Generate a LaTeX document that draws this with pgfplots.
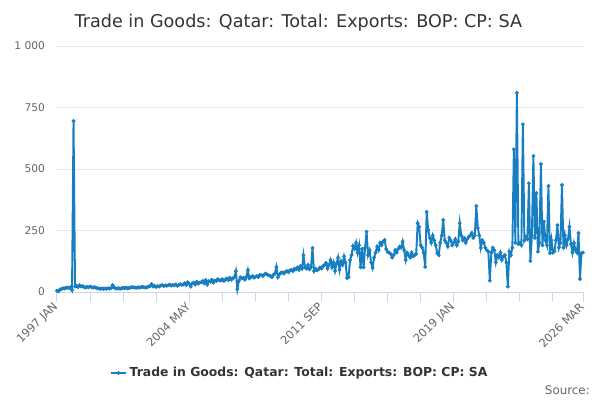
\documentclass[border=0pt]{standalone}
\usepackage{pgfplots}
\pgfplotsset{compat=1.18}
\usepackage{pgfplotstable}
\usepackage{fontspec}
\setmainfont{DejaVu Sans}
\definecolor{ser}{RGB}{24,126,194}
\definecolor{gridc}{RGB}{230,230,230}
\definecolor{axl}{RGB}{204,214,235}
\definecolor{lab}{RGB}{102,102,102}
\definecolor{ttl}{RGB}{51,51,51}

\pgfplotstableread[row sep=\\]{
v\\
5\\3\\10\\12\\15\\14\\17\\18\\16\\20\\8\\695\\
22\\25\\20\\28\\22\\24\\20\\18\\21\\19\\22\\20\\
18\\20\\17\\15\\14\\13\\15\\12\\14\\13\\15\\14\\
16\\28\\18\\15\\14\\16\\13\\15\\17\\16\\18\\15\\
17\\18\\20\\19\\18\\17\\19\\18\\20\\21\\19\\18\\
20\\22\\24\\32\\22\\25\\20\\24\\22\\26\\28\\24\\
27\\25\\28\\30\\26\\29\\27\\31\\25\\28\\32\\29\\
30\\36\\28\\40\\33\\22\\35\\38\\30\\42\\34\\38\\
40\\45\\35\\48\\30\\44\\42\\50\\38\\46\\45\\52\\
48\\46\\52\\45\\50\\55\\48\\58\\50\\55\\60\\85\\
12\\45\\60\\55\\58\\50\\62\\89\\55\\60\\65\\58\\
62\\65\\60\\70\\68\\65\\72\\75\\70\\68\\65\\60\\
70\\75\\102\\60\\72\\78\\80\\75\\82\\85\\80\\88\\
90\\85\\95\\92\\100\\90\\105\\95\\150\\100\\95\\110\\
92\\100\\179\\85\\95\\88\\92\\100\\95\\105\\110\\118\\
95\\110\\130\\100\\120\\85\\115\\140\\90\\125\\110\\145\\
120\\57\\60\\130\\150\\187\\175\\200\\160\\190\\100\\175\\
100\\180\\245\\150\\170\\120\\98\\140\\160\\185\\170\\200\\
190\\205\\211\\175\\163\\160\\155\\140\\150\\170\\160\\175\\
185\\180\\205\\170\\130\\160\\150\\140\\160\\145\\150\\155\\
280\\265\\190\\180\\160\\102\\326\\252\\220\\200\\230\\210\\
190\\158\\150\\200\\230\\293\\210\\200\\185\\220\\210\\190\\
200\\215\\190\\205\\280\\230\\210\\220\\200\\215\\225\\230\\
240\\220\\230\\350\\260\\230\\179\\210\\200\\180\\170\\165\\
46\\160\\180\\170\\120\\150\\140\\160\\130\\145\\150\\120\\
22\\164\\150\\180\\580\\200\\810\\195\\200\\190\\682\\210\\
225\\215\\442\\126\\230\\553\\220\\402\\164\\200\\520\\190\\
286\\210\\190\\431\\158\\211\\160\\165\\210\\272\\180\\200\\
435\\180\\230\\190\\215\\265\\195\\160\\199\\170\\160\\240\\
53\\158\\160\\
}\data

\begin{document}
\begin{tikzpicture}
\path[use as bounding box] (-42.75pt,-81pt) rectangle (407.25pt,219pt);
\begin{axis}[
  at={(0pt,0pt)}, anchor=south west,
  scale only axis, width=394.5pt, height=184.5pt,
  xmin=0, xmax=350, ymin=0, ymax=1000,
  separate axis lines,
  axis x line*=bottom, axis y line*=left,
  x axis line style={draw=axl, line width=0.75pt, -},
  y axis line style={draw=none},
  xtick={0,88,176,264,350},
  minor xtick={22,44,66,110,132,154,198,220,242,286,308,330},
  xticklabels={1997 JAN,2004 MAY,2011 SEP,2019 JAN,2026 MAR},
  xtick style={draw=axl, line width=0.75pt},
  tick align=outside,
  major tick length=7.5pt,
  minor tick length=7.5pt,
  ytick={0,250,500,750,1000},
  yticklabels={0,250,500,750,1 000},
  ytick style={draw=none},
  ymajorgrids,
  grid style={draw=gridc, line width=0.75pt},
  xticklabel style={font=\fontsize{8.5}{10}\selectfont, text=lab, rotate=45, anchor=east, inner sep=1pt, xshift=-1pt, yshift=-1pt},
  yticklabel style={font=\fontsize{8}{9}\selectfont, text=lab, anchor=east, xshift=2pt},
  clip=false,
  legend style={at={(0.462,-0.329)}, anchor=center, draw=none, fill=none,
    font=\bfseries\fontsize{9.3}{11}\selectfont, text=ttl, inner sep=0pt},
  legend image code/.code={\draw[mark repeat=2,mark phase=2,#1] plot coordinates {(0cm,0cm) (0.2cm,0cm) (0.4cm,0cm)};},
]
\addplot[ser, line width=1.45pt, mark=*, mark size=1.2pt, mark options={fill=ser, draw=ser, line width=0.5pt}] table[x expr=\coordindex, y=v]{\data};
\addlegendentry{Trade in Goods: Qatar: Total: Exports: BOP: CP: SA}
\end{axis}
\node[anchor=base, text=ttl, font=\fontsize{13.2}{15}\selectfont] at (181pt,198pt) {Trade in Goods: Qatar: Total: Exports: BOP: CP: SA};
\node[anchor=east, text=lab, font=\fontsize{8.9}{10}\selectfont, inner sep=0pt] at (399.75pt,-73.5pt) {Source:};
\end{tikzpicture}
\end{document}
